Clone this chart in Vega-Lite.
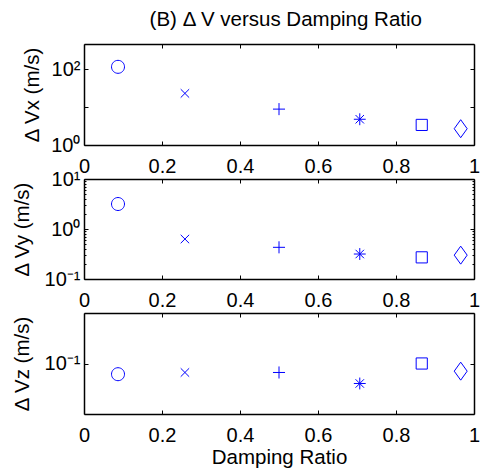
{
  "$schema": "https://vega.github.io/schema/vega-lite/v6.json",
  "padding": {"left": 12, "top": 10, "right": 5, "bottom": 5},
  "title": {"text": "(B) Δ V versus Damping Ratio", "fontSize": 20.5, "fontWeight": "normal", "font": "Liberation Sans", "color": "black", "anchor": "middle", "baseline": "alphabetic", "offset": -3, "dx": 40},
  "config": {
    "font": "Liberation Sans",
    "view": {"stroke": null},
    "axis": {"labelFontSize": 20, "titleFontSize": 20.5, "titleFontWeight": "normal", "labelColor": "black", "titleColor": "black", "domainColor": "black", "tickColor": "black", "domainWidth": 1.5, "tickWidth": 1, "grid": false, "tickSize": -4, "labelFont": "Liberation Sans", "titleFont": "Liberation Sans"}
  },
  "datasets": {
    "dv": [
      {"zeta": 0.0872, "comp": "x", "dv": 117, "marker": "o"},
      {"zeta": 0.2588, "comp": "x", "dv": 23.2, "marker": "x"},
      {"zeta": 0.5, "comp": "x", "dv": 8.9, "marker": "+"},
      {"zeta": 0.7071, "comp": "x", "dv": 4.8, "marker": "*"},
      {"zeta": 0.866, "comp": "x", "dv": 3.4, "marker": "s"},
      {"zeta": 0.9659, "comp": "x", "dv": 2.7, "marker": "d"},
      {"zeta": 0.0872, "comp": "y", "dv": 3.16, "marker": "o"},
      {"zeta": 0.2588, "comp": "y", "dv": 0.63, "marker": "x"},
      {"zeta": 0.5, "comp": "y", "dv": 0.43, "marker": "+"},
      {"zeta": 0.7071, "comp": "y", "dv": 0.316, "marker": "*"},
      {"zeta": 0.866, "comp": "y", "dv": 0.271, "marker": "s"},
      {"zeta": 0.9659, "comp": "y", "dv": 0.3, "marker": "d"},
      {"zeta": 0.0872, "comp": "z", "dv": 0.0614, "marker": "o"},
      {"zeta": 0.2588, "comp": "z", "dv": 0.0664, "marker": "x"},
      {"zeta": 0.5, "comp": "z", "dv": 0.0664, "marker": "+"},
      {"zeta": 0.7071, "comp": "z", "dv": 0.0402, "marker": "*"},
      {"zeta": 0.866, "comp": "z", "dv": 0.1, "marker": "s"},
      {"zeta": 0.9659, "comp": "z", "dv": 0.0705, "marker": "d"}
    ]
  },
  "data": {"name": "dv"},
  "vconcat": [
    {
      "width": 390, "height": 101,
      "transform": [{"filter": "datum.comp == 'x'"}],
      "layer": [
        {
          "mark": {"type": "point", "filled": false, "color": "#0000ff", "strokeWidth": 1, "opacity": 1, "size": 324},
          "encoding": {
            "x": {"field": "zeta", "type": "quantitative", "scale": {"domain": [0, 1], "nice": false, "zero": false}, "axis": {"orient": "bottom", "values": [0, 0.2, 0.4, 0.6, 0.8, 1], "format": "~g", "labelPadding": 15, "labelFlush": false, "title": null}},
            "y": {"field": "dv", "type": "quantitative", "scale": {"type": "log", "domain": [1, 470], "nice": false}, "axis": {"orient": "left", "values": [1, 10, 100], "labelExpr": "datum.value == 1 ? '10⁰' : datum.value == 100 ? '10²' : ''", "labelPadding": 8, "title": "Δ Vx (m/s)", "titleX": -42}},
            "shape": {"field": "marker", "type": "nominal", "scale": {"domain": ["o", "x", "+", "*", "s", "d"], "range": ["M0.722,0A0.722,0.722,0,1,1,-0.722,0A0.722,0.722,0,1,1,0.722,0Z", "M-0.47,-0.47L0.47,0.47M-0.47,0.47L0.47,-0.47", "M-0.67,0L0.67,0M0,-0.67L0,0.67", "M-0.66,0L0.66,0M0,-0.66L0,0.66M-0.47,-0.47L0.47,0.47M-0.47,0.47L0.47,-0.47", "M-0.62,-0.62H0.62V0.62H-0.62Z", "M0,-1L0.72,0L0,1L-0.72,0Z"]}, "legend": null}
          }
        },
        {
          "mark": {"type": "point", "opacity": 0},
          "encoding": {
            "x": {"field": "zeta", "type": "quantitative", "axis": {"orient": "top", "values": [0, 0.2, 0.4, 0.6, 0.8, 1], "labels": false, "title": null}},
            "y": {"field": "dv", "type": "quantitative", "axis": {"orient": "right", "values": [1, 10, 100], "labels": false, "title": null}}
          }
        }
      ],
      "resolve": {"axis": {"x": "independent", "y": "independent"}}
    },
    {
      "width": 390, "height": 100,
      "transform": [{"filter": "datum.comp == 'y'"}],
      "layer": [
        {
          "mark": {"type": "point", "filled": false, "color": "#0000ff", "strokeWidth": 1, "opacity": 1, "size": 324},
          "encoding": {
            "x": {"field": "zeta", "type": "quantitative", "scale": {"domain": [0, 1], "nice": false, "zero": false}, "axis": {"orient": "bottom", "values": [0, 0.2, 0.4, 0.6, 0.8, 1], "format": "~g", "labelPadding": 15, "labelFlush": false, "title": null}},
            "y": {"field": "dv", "type": "quantitative", "scale": {"type": "log", "domain": [0.1, 10], "nice": false}, "axis": {"orient": "left", "values": [0.1, 0.2, 0.3, 0.4, 0.5, 0.6, 0.7, 0.8, 0.9, 1, 2, 3, 4, 5, 6, 7, 8, 9, 10], "tickSize": {"condition": {"test": "datum.value == 0.1 || datum.value == 1 || datum.value == 10", "value": -4}, "value": -2}, "labelExpr": "datum.value == 0.1 ? '10⁻¹' : datum.value == 1 ? '10⁰' : datum.value == 10 ? '10¹' : ''", "labelPadding": 8, "title": "Δ Vy (m/s)", "titleX": -52}},
            "shape": {"field": "marker", "type": "nominal", "scale": {"domain": ["o", "x", "+", "*", "s", "d"], "range": ["M0.722,0A0.722,0.722,0,1,1,-0.722,0A0.722,0.722,0,1,1,0.722,0Z", "M-0.47,-0.47L0.47,0.47M-0.47,0.47L0.47,-0.47", "M-0.67,0L0.67,0M0,-0.67L0,0.67", "M-0.66,0L0.66,0M0,-0.66L0,0.66M-0.47,-0.47L0.47,0.47M-0.47,0.47L0.47,-0.47", "M-0.62,-0.62H0.62V0.62H-0.62Z", "M0,-1L0.72,0L0,1L-0.72,0Z"]}, "legend": null}
          }
        },
        {
          "mark": {"type": "point", "opacity": 0},
          "encoding": {
            "x": {"field": "zeta", "type": "quantitative", "axis": {"orient": "top", "values": [0, 0.2, 0.4, 0.6, 0.8, 1], "labels": false, "title": null}},
            "y": {"field": "dv", "type": "quantitative", "axis": {"orient": "right", "values": [0.1, 0.2, 0.3, 0.4, 0.5, 0.6, 0.7, 0.8, 0.9, 1, 2, 3, 4, 5, 6, 7, 8, 9, 10], "tickSize": {"condition": {"test": "datum.value == 0.1 || datum.value == 1 || datum.value == 10", "value": -4}, "value": -2}, "labels": false, "title": null}}
          }
        }
      ],
      "resolve": {"axis": {"x": "independent", "y": "independent"}}
    },
    {
      "width": 390, "height": 101,
      "transform": [{"filter": "datum.comp == 'z'"}],
      "layer": [
        {
          "mark": {"type": "point", "filled": false, "color": "#0000ff", "strokeWidth": 1, "opacity": 1, "size": 324},
          "encoding": {
            "x": {"field": "zeta", "type": "quantitative", "scale": {"domain": [0, 1], "nice": false, "zero": false}, "axis": {"orient": "bottom", "values": [0, 0.2, 0.4, 0.6, 0.8, 1], "format": "~g", "labelPadding": 15, "labelFlush": false, "title": "Damping Ratio", "titlePadding": 2}},
            "y": {"field": "dv", "type": "quantitative", "scale": {"type": "log", "domain": [0.01, 1], "nice": false}, "axis": {"orient": "left", "values": [0.1], "labelExpr": "'10⁻¹'", "labelPadding": 8, "title": "Δ Vz (m/s)", "titleX": -52}},
            "shape": {"field": "marker", "type": "nominal", "scale": {"domain": ["o", "x", "+", "*", "s", "d"], "range": ["M0.722,0A0.722,0.722,0,1,1,-0.722,0A0.722,0.722,0,1,1,0.722,0Z", "M-0.47,-0.47L0.47,0.47M-0.47,0.47L0.47,-0.47", "M-0.67,0L0.67,0M0,-0.67L0,0.67", "M-0.66,0L0.66,0M0,-0.66L0,0.66M-0.47,-0.47L0.47,0.47M-0.47,0.47L0.47,-0.47", "M-0.62,-0.62H0.62V0.62H-0.62Z", "M0,-1L0.72,0L0,1L-0.72,0Z"]}, "legend": null}
          }
        },
        {
          "mark": {"type": "point", "opacity": 0},
          "encoding": {
            "x": {"field": "zeta", "type": "quantitative", "axis": {"orient": "top", "values": [0, 0.2, 0.4, 0.6, 0.8, 1], "labels": false, "title": null}},
            "y": {"field": "dv", "type": "quantitative", "axis": {"orient": "right", "values": [0.1], "labels": false, "title": null}}
          }
        }
      ],
      "resolve": {"axis": {"x": "independent", "y": "independent"}}
    }
  ],
  "spacing": 34,
  "bounds": "flush"
}
